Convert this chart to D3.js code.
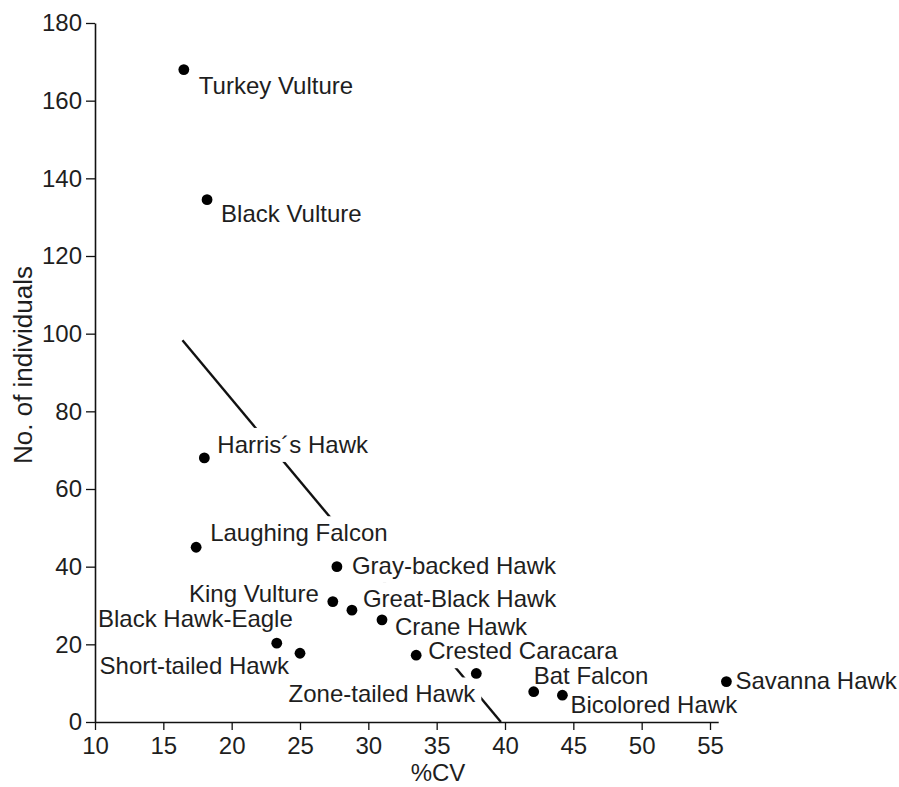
<!DOCTYPE html>
<html>
<head>
<meta charset="utf-8">
<script src="https://cdn.jsdelivr.net/npm/d3@7"></script>
<style>
  body { margin: 0; background: #fff; }
  svg text { font-family: "Liberation Sans", Arial, sans-serif; fill: #1e1e1e; }
</style>
</head>
<body>
<div id="chart"></div>
<script>
// raptor counts vs coefficient of variation
const species = ["Turkey Vulture", "Black Vulture", "Harris´s Hawk", "Laughing Falcon",
  "Gray-backed Hawk", "Great-Black Hawk", "King Vulture", "Crane Hawk", "Black Hawk-Eagle",
  "Short-tailed Hawk", "Crested Caracara", "Zone-tailed Hawk", "Bat Falcon",
  "Bicolored Hawk", "Savanna Hawk"];
const cv = [16.5, 18.2, 18.0, 17.4, 27.7, 28.8, 27.4, 31.0, 23.3, 25.0, 33.5, 37.9, 42.1, 44.2, 56.2];
const individuals = [168, 134.5, 68, 45, 40, 28.8, 31, 26.3, 20.3, 17.7, 17.2, 12.5, 7.8, 6.9, 10.4];

// fitted line, read at both ends
const fitCV = [16.4, 39.7];
const fitN = [98.3, 0];

const xTicks = [10, 15, 20, 25, 30, 35, 40, 45, 50, 55];
const yTicks = [0, 20, 40, 60, 80, 100, 120, 140, 160, 180];

// label offsets from the dot: [dx, dy, anchor]
const labelPos = {
  "Turkey Vulture": [15, 24, "start"],
  "Black Vulture": [14, 22, "start"],
  "Harris´s Hawk": [13, -5, "start"],
  "Laughing Falcon": [14, -6, "start"],
  "Gray-backed Hawk": [15, 7, "start"],
  "King Vulture": [-14, 0, "end"],
  "Great-Black Hawk": [11, -3, "start"],
  "Crane Hawk": [13, 15, "start"],
  "Black Hawk-Eagle": [16, -16, "end"],
  "Short-tailed Hawk": [-11, 21, "end"],
  "Crested Caracara": [12, 4, "start"],
  "Zone-tailed Hawk": [-1, 29, "end"],
  "Bat Falcon": [0, -8, "start"],
  "Bicolored Hawk": [8, 18, "start"],
  "Savanna Hawk": [9, 7, "start"]
};

const width = 899, height = 787;
const margin = { top: 23, right: 180, bottom: 65, left: 95 };

const data = species.map((s, i) => ({ name: s, cv: cv[i], n: individuals[i] }));

let svg = d3.select("#chart")
  .append("svg")
  .attr("width", width)
  .attr("height", height);

let x = d3.scaleLinear()
  .domain([10, 55.6])
  .range([margin.left, 718.2]);

let y = d3.scaleLinear()
  .domain([0, 180])
  .range([height - margin.bottom, margin.top]);

// regression line (labels sit on white boxes above it)
svg.append("line")
  .attr("x1", x(fitCV[0])).attr("y1", y(fitN[0]))
  .attr("x2", x(fitCV[1])).attr("y2", y(fitN[1]))
  .attr("stroke", "#111")
  .attr("stroke-width", 2.4);

let boxes = svg.append("g");
let labels = svg.append("g");

labels.selectAll("text")
  .data(data)
  .join("text")
  .attr("x", d => x(d.cv) + labelPos[d.name][0])
  .attr("y", d => y(d.n) + labelPos[d.name][1])
  .attr("text-anchor", d => labelPos[d.name][2])
  .style("font-size", "24px")
  .text(d => d.name)
  .each(function () {
    const b = this.getBBox();
    boxes.append("rect")
      .attr("x", b.x - 5).attr("y", b.y - 3)
      .attr("width", b.width + 10).attr("height", b.height + 7)
      .attr("fill", "#fff");
  });

// the Black Hawk-Eagle box trims the foot of "King Vulture"
let bhe = data.find(d => d.name === "Black Hawk-Eagle");
let bheBox = labels.selectAll("text").filter(d => d === bhe).node().getBBox();
labels.insert("rect", "text")
  .attr("x", bheBox.x - 5).attr("y", bheBox.y)
  .attr("width", bheBox.width + 10).attr("height", bheBox.height)
  .attr("fill", "#fff");
labels.selectAll("text").filter(d => d === bhe).raise();

svg.append("g")
  .selectAll("circle")
  .data(data)
  .join("circle")
  .attr("cx", d => x(d.cv))
  .attr("cy", d => y(d.n))
  .attr("r", 5.4)
  .attr("fill", "#000");

let xAxis = svg.append("g")
  .attr("transform", `translate(0,${height - margin.bottom})`)
  .call(d3.axisBottom(x).tickValues(xTicks).tickSize(8).tickPadding(7).tickSizeOuter(0));

let yAxis = svg.append("g")
  .attr("transform", `translate(${margin.left},0)`)
  .call(d3.axisLeft(y).tickValues(yTicks).tickSize(9).tickPadding(4).tickSizeOuter(0));

[xAxis, yAxis].forEach(a => {
  a.select(".domain").attr("stroke", "#111").attr("stroke-width", 1.6);
  a.selectAll(".tick line").attr("stroke", "#111").attr("stroke-width", 1.3);
  a.selectAll(".tick text")
    .style("font-size", "24px")
    .style("font-family", "'Liberation Sans', Arial, sans-serif")
    .attr("fill", "#1e1e1e");
});

svg.append("text")
  .attr("text-anchor", "middle")
  .attr("x", 438)
  .attr("y", 781)
  .style("font-size", "24px")
  .text("%CV");

svg.append("text")
  .attr("text-anchor", "start")
  .attr("transform", `translate(32,464) rotate(-90)`)
  .style("font-size", "26px")
  .text("No. of individuals");
</script>
</body>
</html>
